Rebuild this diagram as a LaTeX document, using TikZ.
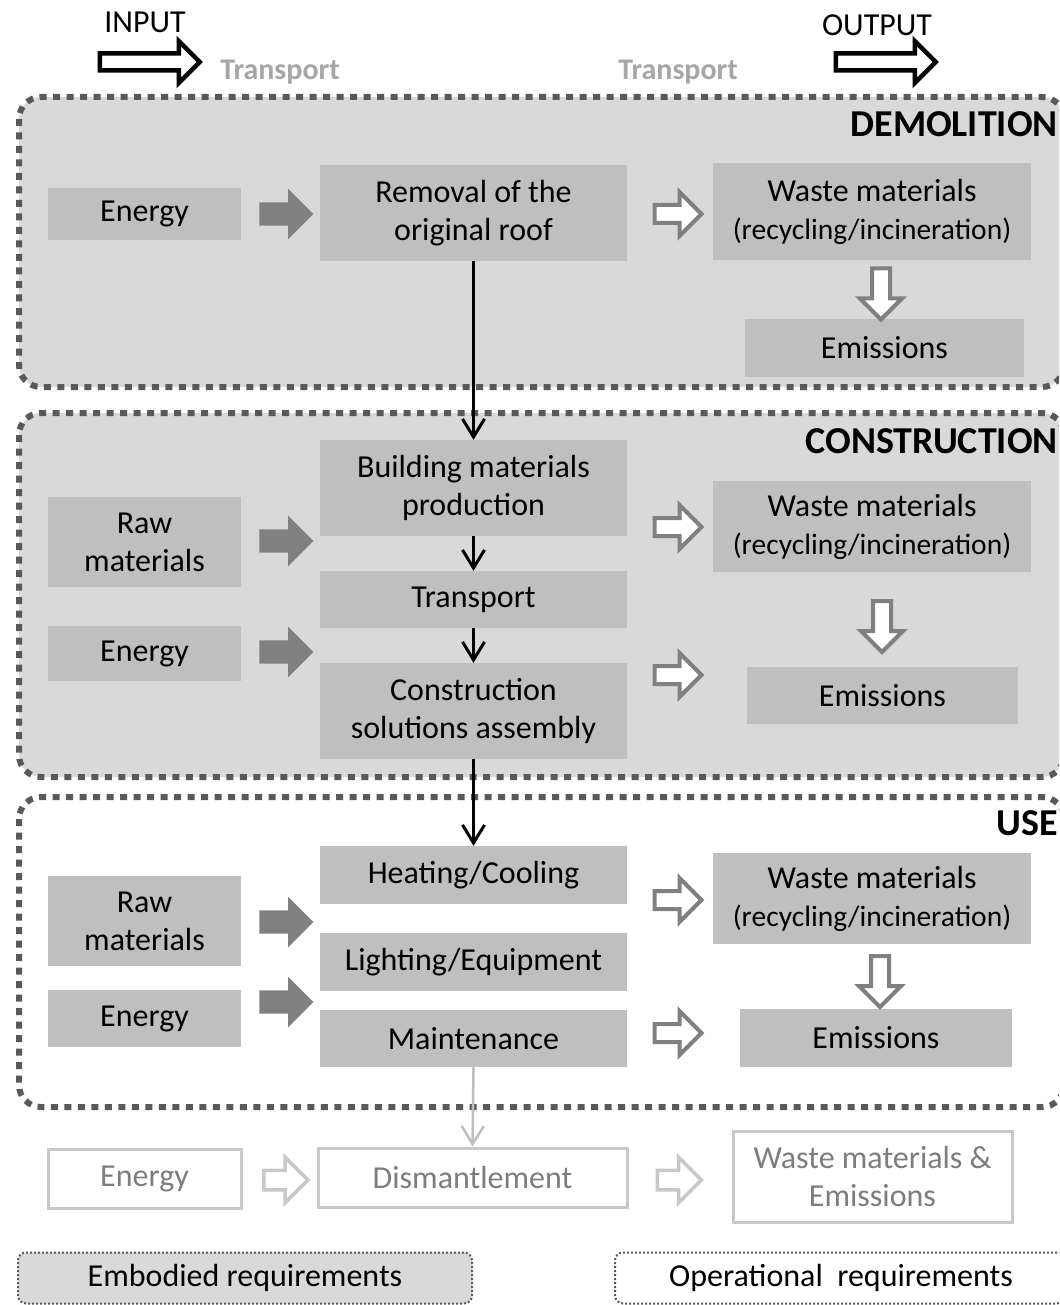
\documentclass[tikz,border=0pt]{standalone}
\usepackage{fontspec}
\setmainfont{Carlito}
\usetikzlibrary{shapes.arrows,arrows.meta}
\definecolor{bglight}{RGB}{217,217,217}
\definecolor{boxgray}{RGB}{191,191,191}
\definecolor{dotgray}{RGB}{89,89,89}
\definecolor{arrgray}{RGB}{128,128,128}
\definecolor{faint}{RGB}{200,200,200}
\definecolor{faintarrow}{RGB}{190,190,190}
\definecolor{fainttext}{RGB}{125,125,125}
\definecolor{transgray}{RGB}{166,166,166}
\newcommand{\smallline}[1]{{\fontsize{29.5}{37}\selectfont #1}}
\begin{document}
\begin{tikzpicture}[x=1pt,y=-1pt,
  every node/.style={font=\fontsize{32}{38}\selectfont, inner sep=0pt, align=center},
  proc/.style={fill=boxgray, text=black},
  faintbox/.style={draw=faint, line width=3pt, fill=white, text=fainttext},
  section/.style={draw=dotgray, line width=6pt, dash pattern=on 7pt off 6.5pt, rounded corners=22pt},
  legend/.style={draw=dotgray, line width=2pt, dash pattern=on 2pt off 2pt, rounded corners=8pt},
  heading/.style={font=\fontsize{38}{40}\selectfont\bfseries, anchor=east, text=black},
  translabel/.style={font=\fontsize{30}{32}\selectfont\bfseries, text=transgray},
  inarrow/.style={single arrow, fill=arrgray, minimum height=54pt, minimum width=1pt,
    inner xsep=0pt, inner ysep=11.5pt, single arrow head extend=13.5pt},
  outarrow/.style={single arrow, draw=arrgray, fill=white, line width=4pt, minimum height=47pt,
    minimum width=1pt, inner xsep=0pt, inner ysep=7pt, single arrow head extend=13pt},
  downarrow/.style={single arrow, draw=arrgray, fill=white, line width=4pt, minimum height=51pt,
    minimum width=1pt, inner xsep=0pt, inner ysep=7pt, single arrow head extend=12pt, rotate=-90},
  faintarr/.style={single arrow, draw=faint, fill=white, line width=3.5pt, minimum height=44pt,
    minimum width=1pt, inner xsep=0pt, inner ysep=8pt, single arrow head extend=13pt},
  bigarrow/.style={single arrow, draw=black, fill=white, line width=4.5pt, minimum height=100pt,
    minimum width=1pt, inner xsep=0pt, inner ysep=6.25pt, single arrow head extend=12.5pt},
  conn/.style={line width=3pt, -{Straight Barb[length=18pt,width=22pt,line width=3pt]}},
  fconn/.style={line width=2.5pt, draw=faintarrow, -{Straight Barb[length=18pt,width=22pt,line width=2.5pt]}}
]
\path[use as bounding box, clip] (0,0) rectangle (1059,1305);

% ---------- top labels ----------
\node (inlbl) at (145,22) {INPUT};
\node[bigarrow] (inarr) at (145.5,62) {};
\node[translabel] (tr1) at (280,72) {Transport};
\node[translabel] (tr2) at (678,72) {Transport};
\node (outlbl) at (877,25) {OUTPUT};
\node[bigarrow] (outarr) at (881.5,62) {};

% ---------- sections ----------
\draw[section, fill=bglight] (19,97) rectangle (1064,387);
\draw[section, fill=bglight] (19,413) rectangle (1064,777);
\draw[section, fill=white] (19,797) rectangle (1064,1107);

\node[heading] (hdem) at (1058,124) {DEMOLITION};
\node[heading] (hcon) at (1058,441) {CONSTRUCTION};
\node[heading] (huse) at (1058,823) {USE};

% ---------- demolition ----------
\node[proc, minimum width=193pt, minimum height=52pt] (en1) at (144.5,214) {Energy};
\node[proc, minimum width=307pt, minimum height=96pt] (rem) at (473.5,213) {Removal of the\\original roof};
\node[proc, minimum width=318pt, minimum height=97pt] (wst1) at (872,211.5) {Waste materials\\\smallline{(recycling/incineration)}};
\node[proc, minimum width=279pt, minimum height=58pt] (emi1) at (884.5,348) {Emissions};
\node[inarrow] (fa1) at (280.5,214) {};
\node[outarrow] (oa1) at (673.5,214) {};
\node[downarrow] (da1) at (881,289.5) {};

% ---------- construction ----------
\node[proc, minimum width=193pt, minimum height=90pt] (raw2) at (144.5,542) {Raw\\materials};
\node[proc, minimum width=193pt, minimum height=55pt] (en2) at (144.5,653.5) {Energy};
\node[proc, minimum width=307pt, minimum height=96pt] (bmp) at (473.5,488) {Building materials\\production};
\node[proc, minimum width=307pt, minimum height=57pt] (tr) at (473.5,599.5) {Transport};
\node[proc, minimum width=307pt, minimum height=96pt] (csa) at (473.5,711) {Construction\\solutions assembly};
\node[proc, minimum width=318pt, minimum height=91pt] (wst2) at (872,526.5) {Waste materials\\\smallline{(recycling/incineration)}};
\node[proc, minimum width=271pt, minimum height=57pt] (emi2) at (882.5,695.5) {Emissions};
\node[inarrow] (fa2) at (280.5,541) {};
\node[inarrow] (fa3) at (280.5,652) {};
\node[outarrow] (oa2) at (673.5,527) {};
\node[outarrow] (oa3) at (673.5,675) {};
\node[downarrow] (da2) at (882,622) {};

% ---------- use ----------
\node[proc, minimum width=193pt, minimum height=90pt] (raw3) at (144.5,921) {Raw\\materials};
\node[proc, minimum width=193pt, minimum height=57pt] (en3) at (144.5,1018.5) {Energy};
\node[proc, minimum width=307pt, minimum height=58pt] (hc) at (473.5,875) {Heating/Cooling};
\node[proc, minimum width=307pt, minimum height=58pt] (le) at (473.5,962) {Lighting/Equipment};
\node[proc, minimum width=307pt, minimum height=57pt] (mt) at (473.5,1038.5) {Maintenance};
\node[proc, minimum width=318pt, minimum height=91pt] (wst3) at (872,898.5) {Waste materials\\\smallline{(recycling/incineration)}};
\node[proc, minimum width=272pt, minimum height=58pt] (emi3) at (876,1038) {Emissions};
\node[inarrow] (fa4) at (280.5,922) {};
\node[inarrow] (fa5) at (280.5,1002) {};
\node[outarrow] (oa4) at (673.5,900) {};
\node[outarrow] (oa5) at (673.5,1033) {};
\node[downarrow] (da3) at (880,977) {};

% ---------- end of life ----------
\node[faintbox, minimum width=193pt, minimum height=59pt] (en4) at (144.5,1178.5) {Energy};
\node[faintbox, minimum width=309pt, minimum height=59pt] (dis) at (472.5,1177.5) {Dismantlement};
\node[faintbox, minimum width=279pt, minimum height=91pt] (wme) at (872.5,1176.5) {Waste materials \&\\Emissions};
\node[faintarr] (ha1) at (281,1180) {};
\node[faintarr] (ha2) at (674.5,1180) {};

% ---------- connectors ----------
\draw[conn] (rem.south) -- (bmp.north);
\draw[conn] (bmp.south) -- (tr.north);
\draw[conn] (tr.south) -- (csa.north);
\draw[conn] (csa.south) -- (hc.north);
\draw[fconn] (mt.south) -- (dis.north);

% ---------- legend ----------
\node[legend, fill=bglight, minimum width=454pt, minimum height=51pt] (leg1) at (245,1278) {Embodied requirements};
\node[legend, fill=white, minimum width=450pt, minimum height=51pt] (leg2) at (840,1278) {};
\node (leg2txt) at (841,1278) {Operational~~requirements};
\end{tikzpicture}
\end{document}
